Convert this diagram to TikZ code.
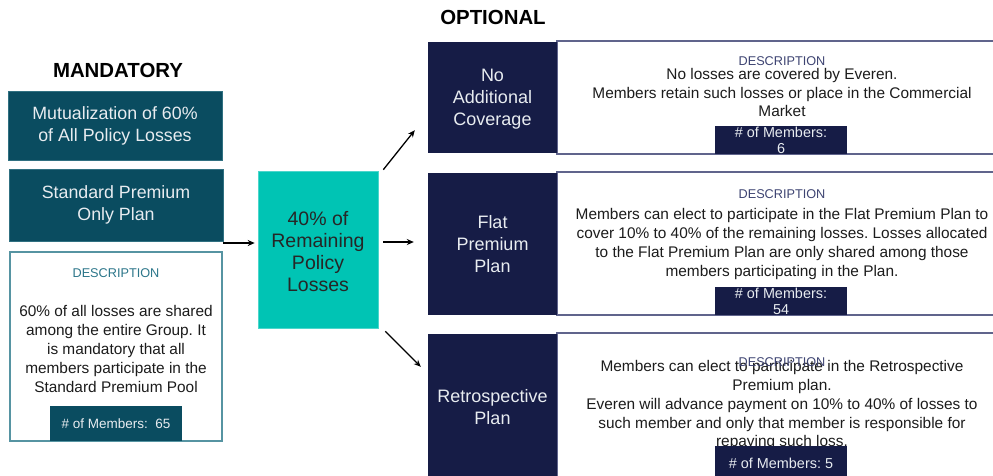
\documentclass[tikz,border=0pt]{standalone}
\usepackage{fontspec}
\setmainfont{Liberation Sans}
\usetikzlibrary{arrows.meta}
\frenchspacing

\definecolor{mandteal}{RGB}{10,76,96}
\definecolor{optnavy}{RGB}{22,28,70}
\definecolor{poolcyan}{RGB}{0,196,180}
\definecolor{descedge}{RGB}{86,148,162}
\definecolor{desctitle}{RGB}{44,118,138}
\definecolor{navytitle}{RGB}{62,68,114}
\definecolor{edgegray}{RGB}{96,100,140}
\definecolor{bodytext}{RGB}{28,28,28}
\definecolor{lighttext}{RGB}{232,236,240}

\begin{document}
\begin{tikzpicture}[x=1pt, y=-1pt,
		heading/.style={font=\fontsize{20.4}{24}\selectfont\bfseries, text=black},
		mandbox/.style={fill=mandteal, draw=descedge!50!mandteal, line width=0.6pt, text=lighttext, align=center, inner sep=0pt, minimum width=214pt, font=\fontsize{17.8}{22}\selectfont},
		optbox/.style={fill=optnavy, text=lighttext, align=center, inner sep=0pt, minimum width=129pt, font=\fontsize{18}{22}\selectfont},
		descbox/.style={fill=white, inner sep=0pt},
		desctag/.style={inner sep=0pt, font=\fontsize{12.7}{14}\selectfont},
		desctext/.style={text=bodytext, align=center, inner sep=0pt},
		countbox/.style={fill=optnavy, text=lighttext, align=center, inner sep=0pt, minimum width=132pt, font=\fontsize{14.4}{16}\selectfont},
		arr/.style={-{Stealth[length=7pt, width=6pt]}, line width=1.3pt}]
		
		\useasboundingbox (0, 0) rectangle (993, 475);
		
		% Headings
		\node[heading] (mandhead) at (118, 70) {MANDATORY};
		\node[heading] (opthead) at (493, 17) {OPTIONAL};
		
		% Mandatory column
		\node[mandbox, minimum height=69pt] (mutual) at (115, 125.5) {Mutualization of 60\%\\of All Policy Losses};
		\node[mandbox, minimum height=72pt] (stdplan) at (116, 205) {Standard Premium\\Only Plan};
		
		% Mandatory description
		\node[descbox, draw=descedge, line width=1.5pt, minimum width=212pt, minimum height=189pt] (manddesc) at (116, 346.5) {};
		\node[desctag, text=desctitle] (mandtag) at (116, 273) {DESCRIPTION};
		\node[desctext, font=\fontsize{15.4}{19}\selectfont] (mandtext) at (116, 349) {60\% of all losses are shared\\among the entire Group. It\\is mandatory that all\\members participate in the\\Standard Premium Pool};
		\node[countbox, fill=mandteal, minimum height=35pt, font=\fontsize{13.5}{16}\selectfont] (mandcount) at (116, 423.5) {\# of Members:\ \ 65};
		
		% Remaining losses
		\node[fill=poolcyan, draw=poolcyan!70!white, line width=0.6pt, text=black!85, align=center, inner sep=0pt, minimum width=120pt, minimum height=157pt, font=\fontsize{19.5}{22}\selectfont] (pool) at (318, 249.5) {\\[-4pt]40\% of\\Remaining\\Policy\\Losses};
		
		% Optional descriptions
		\node[descbox, draw=edgegray, line width=1.2pt, minimum width=443pt, minimum height=113pt] (nocovdesc) at (778.5, 97.5) {};
		\node[descbox, draw=edgegray, line width=1.2pt, minimum width=443pt, minimum height=143pt] (flatdesc) at (778.5, 243.5) {};
		\node[descbox, draw=edgegray, line width=1.2pt, minimum width=443pt, minimum height=152pt] (retrodesc) at (778.5, 409) {};
		
		% Optional plans
		\node[optbox, minimum height=111pt] (nocov) at (492.5, 97.5) {\\[-6pt]No\\Additional\\Coverage};
		\node[optbox, minimum height=142pt] (flat) at (492.5, 244) {Flat\\Premium\\Plan};
		\node[optbox, minimum height=146pt] (retro) at (492.5, 407) {Retrospective\\Plan};
		
		% No Additional Coverage
		\node[desctag, text=navytitle] (nocovtag) at (782, 61) {DESCRIPTION};
		\node[desctext, font=\fontsize{15.4}{18.5}\selectfont] (nocovtext) at (782, 92.5) {No losses are covered by Everen.\\Members retain such losses or place in the Commercial\\Market};
		\node[countbox, minimum height=28pt] (nocovcount) at (781, 140) {\# of Members:\\6};
		
		% Flat Premium Plan
		\node[desctag, text=navytitle] (flattag) at (782, 194) {DESCRIPTION};
		\node[desctext, font=\fontsize{15.4}{19.3}\selectfont] (flattext) at (782, 244) {Members can elect to participate in the Flat Premium Plan to\\cover 10\% to 40\% of the remaining losses. Losses allocated\\to the Flat Premium Plan are only shared among those\\members participating in the Plan.};
		\node[countbox, minimum height=28pt] (flatcount) at (781, 301) {\# of Members:\\54};
		
		% Retrospective Plan
		\node[desctext, font=\fontsize{15.4}{18.75}\selectfont] (retrotext) at (782, 405.5) {Members can elect to participate in the Retrospective\\Premium plan.\\Everen will advance payment on 10\% to 40\% of losses to\\such member and only that member is responsible for\\repaying such loss.};
		\node[desctag, text=navytitle] (retrotag) at (782, 362) {DESCRIPTION};
		\node[countbox, minimum height=34pt] (retrocount) at (781, 463) {\# of Members: 5};
		
		% Connectors
		\coordinate (feed) at (223, 243);
		\draw[arr] (feed) -- (feed -| pool.west) [shorten >=3pt];
		
		\draw[arr] ([shift={(5, -1)}]pool.north east) -- ([shift={(-13, -23)}]nocov.south west);
		
		\coordinate (split) at (383, 242);
		\draw[arr] (split) -- (split -| flat.west) [shorten >=14pt];
		
		\draw[arr] ([shift={(7, 3)}]pool.south east) -- ([shift={(-7, 33)}]retro.north west);
		
	\end{tikzpicture}
\end{document}
